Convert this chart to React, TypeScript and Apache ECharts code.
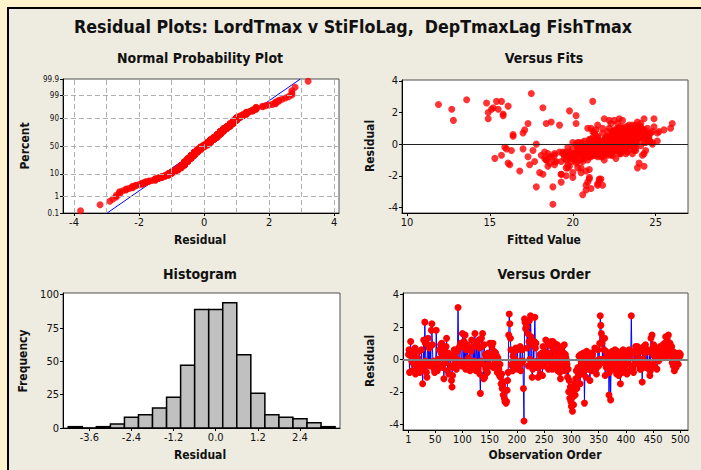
import React, { useEffect, useRef } from "react";
import * as echarts from "echarts";

// Residuals in observation order (1..500)
const RESIDUALS: number[] = [
  0.3, 0.6, -0.8, 0.5, 1.1, 0.2, -0.1, -0.7, 0.4, -0.2, -0.3, 0.0, 0.7, -0.9, 0.5, 0.0, -0.5, 0.1, -0.2, -0.3,
  0.5, -0.8, -0.5, -0.3, 0.6, -0.3, -1.5, -0.6, 1.2, -0.4, 2.3, 1.0, -0.1, -0.8, -1.1, 0.9, 1.3, -0.2, 0.7, -0.4,
  0.8, -0.3, 1.8, 2.2, 0.9, -0.2, -0.1, -0.6, -0.8, -0.2, -0.4, 1.8, -0.1, -0.7, 0.0, -0.4, -0.5, 0.6, -0.3, 0.9,
  0.4, 1.0, 0.2, -0.5, 0.7, -1.2, 0.3, 0.5, -0.2, 0.8, 1.3, 0.1, -0.7, 0.4, -0.9, 0.1, 0.2, 0.2, -0.4, -1.3,
  -1.7, -1.0, 0.3, -0.5, 0.6, -0.1, -0.3, 0.4, -0.6, 0.0, 0.5, 3.2, 0.7, -0.2, -0.1, 0.9, 1.0, -0.1, -0.4, 1.6,
  0.8, -0.4, 1.1, -0.3, 1.5, -0.6, 0.6, -0.3, 0.9, 0.0, 0.1, -0.1, 0.7, -0.7, -0.2, 0.5, 1.2, -0.4, -0.5, 0.8,
  -0.5, -0.1, 1.6, -0.3, -0.7, 0.9, 1.0, -0.4, -0.6, 1.2, 0.7, -0.9, -2.1, -0.1, 1.3, 0.8, 1.6, -0.3, -1.2, 0.9,
  -1.1, 0.3, -0.6, 0.2, 0.1, -0.8, 0.4, -0.3, 0.2, 1.0, 0.1, -0.4, 1.0, 0.8, 0.3, 1.0, -0.5, 0.5, 0.0, -0.2,
  0.4, -0.1, 0.2, -0.8, 0.1, -0.4, -0.6, -1.0, -0.3, -1.1, -1.5, -0.9, -1.8, -1.6, -2.2, -1.4, -2.4, -2.6, -1.9, -2.7,
  -2.6, -1.9, -1.3, -0.8, 1.5, 2.8, 2.2, 1.3, 0.6, -0.3, -0.4, -0.7, 0.2, -0.6, -0.5, 0.5, 0.0, 0.7, -0.2, -0.4,
  0.6, -0.6, -0.5, -0.3, -0.4, 0.8, -0.7, -0.1, -0.2, 0.6, -0.1, -1.8, -3.8, 2.5, 2.3, 1.9, 2.2, 2.0, 0.7, 1.6,
  -0.4, 1.1, 2.4, 0.0, 2.7, 1.4, -0.3, -1.1, -0.6, 0.9, -0.3, 1.1, 2.6, 0.7, 1.0, -0.5, -0.1, -0.2, -1.1, -0.5,
  -0.2, 0.3, -0.9, 0.1, 0.0, 0.4, -1.0, 0.8, 0.1, -0.4, 0.5, 0.2, 1.2, 0.2, -0.1, 0.3, 0.9, -0.6, 0.4, 0.1,
  0.1, -0.3, 1.1, 0.8, -0.6, 1.1, -0.4, -0.2, 1.0, 0.5, 0.2, -0.5, 0.0, 0.9, -0.7, 0.6, -0.1, 0.2, -0.8, -1.2,
  0.5, -0.4, 0.1, 0.8, -0.2, 0.4, 0.9, -0.7, 0.3, 0.1, -0.1, -0.3, -1.1, -0.6, -2.0, -1.3, -2.4, -1.7, -2.6, -2.9,
  -2.1, -3.2, -2.3, -2.8, -1.9, -1.5, -2.2, -1.2, -0.7, -1.8, -1.4, -0.5, -1.0, 0.2, -0.6, -1.5, 0.3, -0.2, -0.9, 0.1,
  -0.8, 0.4, -0.3, -2.7, -0.5, 0.2, -1.1, 0.5, -0.1, -0.6, 0.3, -0.4, 0.1, -1.3, -0.2, 0.4, -0.7, 0.0, 0.3, -0.5,
  -0.5, -0.3, 0.7, -0.6, -0.6, -0.9, -0.1, -0.2, 0.6, -0.4, 0.0, 1.0, 2.7, 2.1, 1.6, 1.0, 0.0, 1.3, -0.2, 0.6,
  1.3, -1.0, 0.5, -0.5, 0.2, 0.1, -0.3, 0.4, -2.2, -0.8, 0.3, -2.5, 0.1, -0.4, 0.5, -0.1, 0.3, -0.6, 0.4, 0.6,
  -0.3, 0.2, -0.9, 0.5, -0.5, 0.1, -1.0, 0.3, -0.7, -1.5, -0.2, 0.4, -0.8, 0.0, 0.6, -0.4, 0.2, -0.6, 0.5, -0.2,
  0.2, -0.9, 0.0, 0.5, -0.3, 0.6, 0.1, -0.7, 0.4, 2.7, 0.4, -0.5, -0.6, -0.8, 0.5, -0.3, -0.1, 0.8, -0.2, 0.3,
  0.8, -0.1, 0.4, 0.7, -0.4, -0.6, 0.6, -0.6, 0.0, -1.4, 0.5, 0.0, 0.8, -0.3, 0.4, 0.9, -0.5, -0.5, 0.6, -0.2,
  -0.4, -0.6, 0.5, -1.0, -0.7, 1.3, 0.4, 1.5, 0.7, -0.3, 0.9, 0.2, 0.6, -0.5, 0.4, 0.7, -0.6, 0.3, 0.5, -0.1,
  0.6, 0.2, 0.8, 0.4, 0.7, 0.1, 0.1, 0.9, 0.3, 0.5, 1.0, 0.2, 1.4, 0.2, 0.8, 1.2, 0.5, 1.5, 0.9, 0.4,
  1.0, 0.6, 0.2, 0.8, -0.2, 0.5, -0.4, 0.3, -0.7, 0.1, 0.4, -0.5, 0.2, 0.0, 0.3, -0.3, 0.1, 0.4, 0.2, 0.3,
];

// Fitted values, aligned with RESIDUALS
const FITTED: number[] = [
  22.4, 23.1, 20.6, 22.8, 24.1, 23.5, 21.9, 20.3, 22.6, 23.8, 21.2, 22.0, 22.9, 19.8, 23.3, 21.4, 22.2, 24.3, 21.0, 21.7,
  22.7, 21.1, 18.3, 20.9, 23.6, 22.3, 19.6, 22.1, 23.4, 20.4, 15.2, 23.0, 22.5, 20.0, 19.9, 23.9, 17.3, 21.3, 24.0, 22.6,
  22.9, 17.0, 20.2, 12.7, 24.2, 21.6, 22.7, 20.8, 21.8, 23.2, 21.0, 15.8, 22.0, 15.7, 20.5, 23.7, 22.4, 24.5, 21.9, 17.1,
  22.1, 23.6, 21.3, 20.7, 17.0, 16.1, 22.8, 23.1, 20.6, 24.4, 20.2, 22.5, 21.2, 23.5, 15.3, 22.2, 24.6, 23.8, 21.5, 16.2,
  16.8, 18.4, 22.0, 19.4, 16.4, 22.6, 16.0, 23.0, 20.1, 21.7, 16.4, 17.5, 23.3, 15.9, 22.9, 24.3, 22.7, 21.4, 16.3, 24.3,
  23.7, 22.2, 24.0, 21.6, 22.5, 18.5, 23.4, 21.8, 25.5, 22.8, 21.3, 20.5, 24.7, 22.4, 19.7, 23.2, 19.2, 22.0, 21.1, 25.2,
  21.5, 20.8, 21.9, 23.1, 19.5, 22.9, 24.5, 22.3, 21.7, 23.8, 22.4, 20.7, 21.0, 23.6, 24.1, 21.2, 22.8, 20.4, 24.0, 23.0,
  19.3, 22.5, 21.4, 23.9, 20.6, 18.7, 22.1, 20.3, 23.3, 21.8, 24.8, 22.7, 20.9, 23.5, 21.0, 25.9, 19.8, 22.6, 24.8, 21.6,
  23.4, 21.9, 22.3, 21.5, 20.0, 23.0, 18.9, 19.6, 22.4, 20.3, 23.9, 18.3, 18.0, 21.0, 21.7, 18.5, 19.3, 21.5, 19.3, 18.8,
  20.8, 18.2, 17.4, 17.3, 12.8, 13.6, 15.1, 18.4, 22.9, 21.2, 23.8, 22.1, 22.6, 20.7, 19.6, 24.2, 22.0, 23.4, 20.9, 21.8,
  23.1, 20.2, 21.4, 22.7, 21.6, 23.5, 22.3, 24.1, 20.5, 22.8, 21.9, 20.0, 18.8, 11.9, 18.2, 15.8, 15.5, 14.9, 21.3, 14.9,
  22.4, 24.9, 16.1, 21.7, 15.4, 18.7, 22.0, 17.7, 23.6, 21.4, 22.5, 23.3, 14.8, 24.0, 22.2, 20.6, 23.7, 21.1, 19.0, 22.9,
  21.3, 22.8, 20.1, 23.4, 17.8, 22.2, 18.4, 24.2, 21.6, 17.6, 23.0, 22.4, 21.5, 23.7, 20.7, 22.0, 22.9, 21.2, 23.5, 21.0,
  22.6, 21.0, 23.2, 22.4, 24.3, 22.9, 21.8, 20.3, 23.6, 22.1, 24.6, 21.4, 23.0, 22.7, 20.8, 23.9, 20.6, 22.5, 18.6, 20.2,
  23.3, 22.0, 21.2, 24.0, 22.7, 21.5, 23.4, 19.7, 22.3, 23.8, 21.1, 20.0, 20.6, 19.4, 19.6, 18.9, 20.9, 20.8, 21.8, 20.8,
  20.0, 20.6, 21.6, 21.1, 19.3, 20.5, 21.0, 18.6, 21.3, 20.5, 19.8, 22.1, 20.9, 23.1, 21.7, 20.3, 22.4, 21.9, 19.5, 22.7,
  20.9, 22.6, 21.5, 17.8, 22.3, 21.0, 18.9, 23.4, 22.1, 20.7, 22.9, 21.8, 20.4, 19.7, 22.8, 23.5, 20.1, 21.3, 22.0, 19.2,
  22.2, 21.4, 23.7, 20.3, 21.9, 19.9, 23.2, 22.5, 24.1, 21.7, 22.8, 21.1, 15.7, 19.8, 24.9, 23.5, 22.6, 22.3, 20.8, 23.0,
  26.0, 20.5, 22.9, 21.6, 22.4, 24.4, 21.2, 23.3, 21.6, 20.2, 22.1, 21.5, 21.8, 20.9, 24.6, 22.0, 23.6, 21.4, 22.7, 23.9,
  21.9, 22.7, 20.6, 23.1, 21.3, 21.7, 20.1, 22.5, 18.9, 19.7, 22.2, 24.2, 21.0, 23.0, 22.4, 24.4, 21.5, 22.9, 23.7, 20.4,
  23.4, 22.6, 21.6, 22.9, 20.9, 23.8, 22.3, 21.4, 22.0, 21.2, 24.0, 22.2, 23.2, 21.7, 24.5, 20.7, 23.5, 22.1, 21.8, 22.8,
  22.5, 21.5, 23.1, 25.1, 22.4, 20.6, 23.9, 22.8, 21.9, 24.3, 22.7, 20.2, 23.6, 22.1, 24.1, 22.9, 23.3, 21.0, 24.5, 22.6,
  23.0, 21.1, 22.4, 21.9, 24.2, 22.7, 23.5, 22.2, 21.8, 23.7, 22.5, 25.1, 24.0, 21.4, 22.8, 23.2, 19.9, 24.6, 21.5, 23.4,
  22.9, 21.6, 23.8, 22.3, 24.1, 23.0, 22.6, 23.5, 21.9, 24.4, 22.8, 23.3, 23.9, 22.1, 22.4, 23.6, 24.3, 23.0, 22.7, 21.2,
  23.7, 22.5, 20.7, 24.8, 21.8, 23.2, 22.9, 21.4, 18.1, 22.2, 23.9, 21.3, 24.6, 22.8, 21.1, 23.4, 20.3, 22.0, 23.1, 22.4,
];

// Histogram (bin midpoints and counts, bin width 0.4)
const HIST_CENTERS = [-4.0, -3.6, -3.2, -2.8, -2.4, -2.0, -1.6, -1.2, -0.8, -0.4, 0.0, 0.4, 0.8, 1.2, 1.6, 2.0, 2.4, 2.8, 3.2];
const HIST_COUNTS = [1, 0, 1, 3, 8, 10, 15, 23, 47, 89, 89, 94, 55, 26, 10, 8, 7, 4, 1];
const HIST_BIN_WIDTH = 0.4;

// Tick values
const PCT_TICKS = [0.1, 1, 10, 50, 90, 99, 99.9];
const NORM_X_TICKS = [-4, -2, 0, 2, 4];
const NORM_GRID_X = [-4, -3, -2, -1, 0, 1, 2, 3, 4];
const FIT_X_TICKS = [10, 15, 20, 25];
const RESID_TICKS = [-4, -2, 0, 2, 4];
const HIST_X_TICKS = [-3.6, -2.4, -1.2, 0, 1.2, 2.4];
const HIST_Y_TICKS = [0, 25, 50, 75, 100];
const ORDER_TICKS = [1, 50, 100, 150, 200, 250, 300, 350, 400, 450, 500];

const TITLE = "Residual Plots: LordTmax v StiFloLag,  DepTmaxLag FishTmax";

const FONT = '"DejaVu Sans Condensed", "DejaVu Sans", sans-serif';

function probit(p: number): number {
  const a = [-39.69683028665376, 220.9460984245205, -275.9285104469687, 138.357751867269, -30.66479806614716, 2.506628277459239];
  const b = [-54.47609879822406, 161.5858368580409, -155.6989798598866, 66.80131188771972, -13.28068155288572];
  const c = [-0.007784894002430293, -0.3223964580411365, -2.400758277161838, -2.549671348283169, 4.374664141464968, 2.938163982698783];
  const d = [0.007784695709041462, 0.3224671290700398, 2.445134137142996, 3.754408661907416];
  const pl = 0.02425;
  if (p < pl) {
    const q = Math.sqrt(-2 * Math.log(p));
    return (((((c[0] * q + c[1]) * q + c[2]) * q + c[3]) * q + c[4]) * q + c[5]) / ((((d[0] * q + d[1]) * q + d[2]) * q + d[3]) * q + 1);
  }
  if (p <= 1 - pl) {
    const q = p - 0.5;
    const r = q * q;
    return ((((((a[0] * r + a[1]) * r + a[2]) * r + a[3]) * r + a[4]) * r + a[5]) * q) / (((((b[0] * r + b[1]) * r + b[2]) * r + b[3]) * r + b[4]) * r + 1);
  }
  const q = Math.sqrt(-2 * Math.log(1 - p));
  return -(((((c[0] * q + c[1]) * q + c[2]) * q + c[3]) * q + c[4]) * q + c[5]) / ((((d[0] * q + d[1]) * q + d[2]) * q + d[3]) * q + 1);
}

function buildOption() {
  const n = RESIDUALS.length;
  const mean = RESIDUALS.reduce((s, v) => s + v, 0) / n;
  const sd = Math.sqrt(RESIDUALS.reduce((s, v) => s + (v - mean) * (v - mean), 0) / (n - 1));
  const sorted = [...RESIDUALS].sort((x, y) => x - y);
  const normPts = sorted.map((v, i) => [v, probit((i + 1 - 0.3) / (n + 0.4))]);
  const zMin = probit(PCT_TICKS[0] / 100);
  const zMax = probit(PCT_TICKS[PCT_TICKS.length - 1] / 100);
  const pctZ = PCT_TICKS.map((p) => probit(p / 100));
  const fitLine = [
    [mean + sd * zMin, zMin],
    [mean + sd * zMax, zMax],
  ];

  const axisBase = (ticks: number[], fontSize: number, formatter?: (v: number) => string) => ({
    type: "value",
    axisLine: { show: true, onZero: false, lineStyle: { color: "#000", width: 1 } },
    axisTick: { show: true, inside: false, length: 3, customValues: ticks, lineStyle: { color: "#000", width: 1 } },
    axisLabel: {
      customValues: ticks,
      color: "#111",
      fontSize,
      fontFamily: FONT,
      margin: 4,
      formatter: formatter || ((v: number) => String(v)),
    },
    splitLine: { show: false },
  });

  const gridBase = { show: true, backgroundColor: "#ffffff", borderColor: "#505050", borderWidth: 1, containLabel: false };

  const txt = (text: string, x: number, y: number, size: number, rotate = false) => ({
    type: "text",
    x,
    y,
    rotation: rotate ? Math.PI / 2 : 0,
    style: {
      text,
      fill: "#111",
      font: `bold ${size}px ${FONT}`,
      textAlign: "center",
      textVerticalAlign: "middle",
    },
  });

  return {
    animation: false,
    backgroundColor: "transparent",
    graphic: [
      txt(TITLE, 353, 27, 17.7),
      txt("Normal Probability Plot", 200, 58, 14),
      txt("Versus Fits", 544, 58, 14),
      txt("Histogram", 200, 274, 14),
      txt("Versus Order", 544, 274, 14),
      txt("Residual", 200, 240, 12),
      txt("Percent", 25, 146, 12, true),
      txt("Fitted Value", 544, 240, 12),
      txt("Residual", 370, 146, 12, true),
      txt("Frequency", 23, 361, 12, true),
      txt("Residual", 200, 455, 12),
      txt("Observation Order", 545, 455, 12),
      txt("Residual", 370, 361, 12, true),
    ],
    grid: [
      { ...gridBase, left: 63, top: 79, width: 276, height: 134 },
      { ...gridBase, left: 402, top: 80, width: 286, height: 133 },
      { ...gridBase, left: 63, top: 293, width: 277, height: 135 },
      { ...gridBase, left: 403, top: 293, width: 285, height: 137 },
    ],
    xAxis: [
      { ...axisBase(NORM_X_TICKS, 11), gridIndex: 0, min: -4.34, max: 4.15 },
      { ...axisBase(FIT_X_TICKS, 11), gridIndex: 1, min: 9.7, max: 26.95 },
      { ...axisBase(HIST_X_TICKS, 11, (v: number) => v.toFixed(1)), gridIndex: 2, min: -4.35, max: 3.54 },
      { ...axisBase(ORDER_TICKS, 11), gridIndex: 3, min: -9, max: 514 },
    ],
    yAxis: [
      {
        ...axisBase(pctZ, 8, (v: number) => {
          let best = 0;
          pctZ.forEach((z, i) => {
            if (Math.abs(z - v) < Math.abs(pctZ[best] - v)) best = i;
          });
          return String(PCT_TICKS[best]);
        }),
        gridIndex: 0,
        min: zMin,
        max: zMax,
      },
      { ...axisBase(RESID_TICKS, 11), gridIndex: 1, min: -4.35, max: 4.05 },
      { ...axisBase(HIST_Y_TICKS, 11), gridIndex: 2, min: 0, max: 101.3 },
      { ...axisBase(RESID_TICKS, 11), gridIndex: 3, min: -4.36, max: 4.1 },
    ],
    series: [
      {
        type: "line",
        xAxisIndex: 0,
        yAxisIndex: 0,
        data: fitLine,
        showSymbol: false,
        symbol: "none",
        z: 1,
        lineStyle: { color: "#0000ff", width: 1 },
        markLine: {
          silent: true,
          symbol: ["none", "none"],
          label: { show: false },
          lineStyle: { color: "#b0b0b0", type: [5, 3], width: 1 },
          data: [
            ...NORM_GRID_X.map((v) => ({ xAxis: v })),
            ...pctZ.slice(1, -1).map((z) => ({ yAxis: z })),
          ],
        },
      },
      {
        type: "scatter",
        xAxisIndex: 0,
        yAxisIndex: 0,
        data: normPts,
        symbol: "circle",
        symbolSize: 7,
        z: 3,
        itemStyle: { color: "#ff0000" },
      },
      {
        type: "scatter",
        xAxisIndex: 1,
        yAxisIndex: 1,
        data: FITTED.map((f, i) => [f, RESIDUALS[i]]),
        symbol: "circle",
        symbolSize: 7,
        itemStyle: { color: "#ff0000" },
        markLine: {
          silent: true,
          symbol: ["none", "none"],
          label: { show: false },
          lineStyle: { color: "#222", type: "solid", width: 1 },
          data: [{ yAxis: 0 }],
        },
      },
      {
        type: "custom",
        xAxisIndex: 2,
        yAxisIndex: 2,
        data: HIST_CENTERS.map((c, i) => [c, HIST_COUNTS[i]]),
        encode: { x: 0, y: 1 },
        renderItem: (_params: any, api: any) => {
          const c = api.value(0);
          const cnt = api.value(1);
          const p1 = api.coord([c - HIST_BIN_WIDTH / 2, cnt]);
          const p2 = api.coord([c + HIST_BIN_WIDTH / 2, 0]);
          return {
            type: "rect",
            shape: { x: p1[0], y: p1[1], width: p2[0] - p1[0], height: p2[1] - p1[1] },
            style: { fill: "#c0c0c0", stroke: "#000", lineWidth: 1.5 },
          };
        },
      },
      {
        type: "line",
        xAxisIndex: 3,
        yAxisIndex: 3,
        data: RESIDUALS.map((r, i) => [i + 1, r]),
        symbol: "circle",
        symbolSize: 7,
        showSymbol: true,
        showAllSymbol: true,
        itemStyle: { color: "#ff0000" },
        lineStyle: { color: "#0000ff", width: 1 },
        markLine: {
          silent: true,
          symbol: ["none", "none"],
          label: { show: false },
          lineStyle: { color: "#808080", type: "solid", width: 2 },
          data: [{ yAxis: 0 }],
        },
      },
    ],
  };
}

export default function App() {
  const ref = useRef<HTMLDivElement>(null);
  useEffect(() => {
    if (!ref.current) return;
    const chart = echarts.init(ref.current, undefined, { renderer: "svg" });
    chart.setOption(buildOption() as any);
    return () => chart.dispose();
  }, []);
  return (
    <div style={{ position: "absolute", left: 0, top: 0, width: 701, height: 470, background: "#fff2cc", overflow: "hidden" }}>
      <div
        style={{
          position: "absolute",
          left: 7,
          top: 7,
          width: 694,
          height: 463,
          background: "#eeebe0",
          borderLeft: "2px solid #000",
          borderTop: "2px solid #000",
        }}
      />
      <div ref={ref} style={{ position: "absolute", left: 0, top: 0, width: 701, height: 470 }} />
    </div>
  );
}
